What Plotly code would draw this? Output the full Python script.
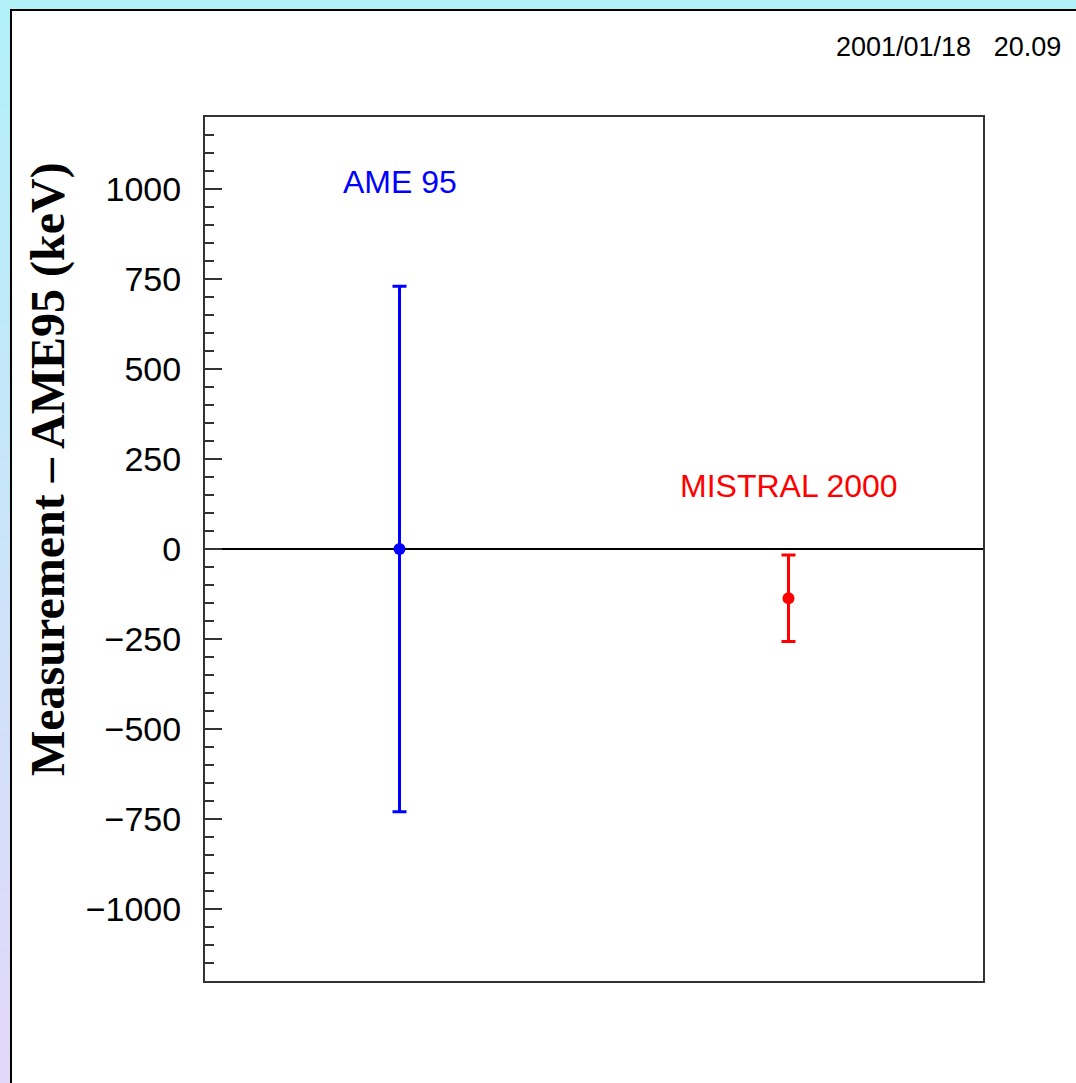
import plotly.graph_objects as go

# ---- data ----
series_names = ["AME 95", "MISTRAL 2000"]
x_pos = [1, 3]
y_vals = [0, -137]
y_err = [730, 120]
colors = ["#0000ff", "#ff0000"]
label_y = [1020, 175]
y_ticks = [-1000, -750, -500, -250, 0, 250, 500, 750, 1000]
y_ticktext = ["\u22121000", "\u2212750", "\u2212500", "\u2212250", "0", "250", "500", "750", "1000"]
date_text = "2001/01/18\u00a0\u00a0\u00a020.09"
y_title = "Measurement \u2013 AME95 (keV)"

W, H = 1076, 1083
L, R, T, B = 205, 983, 117, 981

def px(x):
    return (x - L) / (R - L)

def py(y):
    return (B - y) / (B - T)

fig = go.Figure()
for i in range(len(series_names)):
    fig.add_trace(go.Scatter(
        x=[x_pos[i]], y=[y_vals[i]], mode="markers",
        marker=dict(color=colors[i], size=12),
        error_y=dict(type="data", array=[y_err[i]], visible=True,
                     color=colors[i], thickness=3, width=7),
        showlegend=False, hoverinfo="skip"))
    fig.add_annotation(x=x_pos[i], y=label_y[i], text=series_names[i],
                       showarrow=False, xref="x", yref="y",
                       font=dict(family="Liberation Sans, Arial", size=32,
                                 color=colors[i]))

shapes = []
# background gradient bands (left strip and top strip)
c0 = (178, 240, 248)
c1 = (226, 216, 248)
n = 40
for k in range(n):
    t = k / (n - 1)
    c = tuple(int(round(c0[j] + (c1[j] - c0[j]) * t)) for j in range(3))
    y0 = k * H / n
    y1 = (k + 1) * H / n
    shapes.append(dict(type="rect", xref="paper", yref="paper",
                       x0=px(0), x1=px(11), y0=py(y1 + 1), y1=py(y0),
                       fillcolor="rgb(%d,%d,%d)" % c, line=dict(width=0), layer="below"))
shapes.append(dict(type="rect", xref="paper", yref="paper",
                   x0=px(0), x1=px(W), y0=py(10), y1=py(0),
                   fillcolor="rgb(%d,%d,%d)" % c0, line=dict(width=0), layer="below"))
# white panel
shapes.append(dict(type="rect", xref="paper", yref="paper",
                   x0=px(11), x1=px(W + 5), y0=py(H + 5), y1=py(10),
                   fillcolor="white", line=dict(color="black", width=2), layer="below"))
fig.update_layout(shapes=shapes)

fig.add_annotation(xref="paper", yref="paper", x=px(1063), y=py(47), xanchor="right",
                   yanchor="middle", text=date_text, showarrow=False,
                   font=dict(family="Liberation Sans, Arial", size=27, color="black"))

# y-axis title placed as rotated annotation
fig.add_annotation(xref="paper", yref="paper", x=px(48), y=py(469), xanchor="center",
                   yanchor="middle", text="<b>" + y_title + "</b>", showarrow=False,
                   textangle=-90,
                   font=dict(family="Liberation Serif, Times New Roman", size=48,
                             color="black"))

fig.update_layout(
    width=W, height=H,
    margin=dict(l=L, r=W - R, t=T, b=H - B, pad=0),
    paper_bgcolor="rgb(178,240,248)",
    plot_bgcolor="white",
    xaxis=dict(range=[0, 4], showgrid=False, zeroline=False, showticklabels=False,
               ticks="", showline=True, linecolor="#333333", linewidth=2, mirror=True),
    yaxis=dict(range=[-1200, 1200], showgrid=False,
               zeroline=True, zerolinecolor="black", zerolinewidth=1.5,
               tickmode="array", tickvals=y_ticks, ticktext=y_ticktext,
               ticks="inside", ticklen=17, tickwidth=1.5, tickcolor="#333333",
               minor=dict(dtick=50, tick0=0, ticks="inside", ticklen=9, tickwidth=1.5,
                          tickcolor="#333333", showgrid=False),
               showline=True, linecolor="#333333", linewidth=2, mirror=True,
               ticklabelstandoff=15,
               tickfont=dict(family="Liberation Sans, Arial", size=34, color="black")),
)

fig.write_html("out.html")
